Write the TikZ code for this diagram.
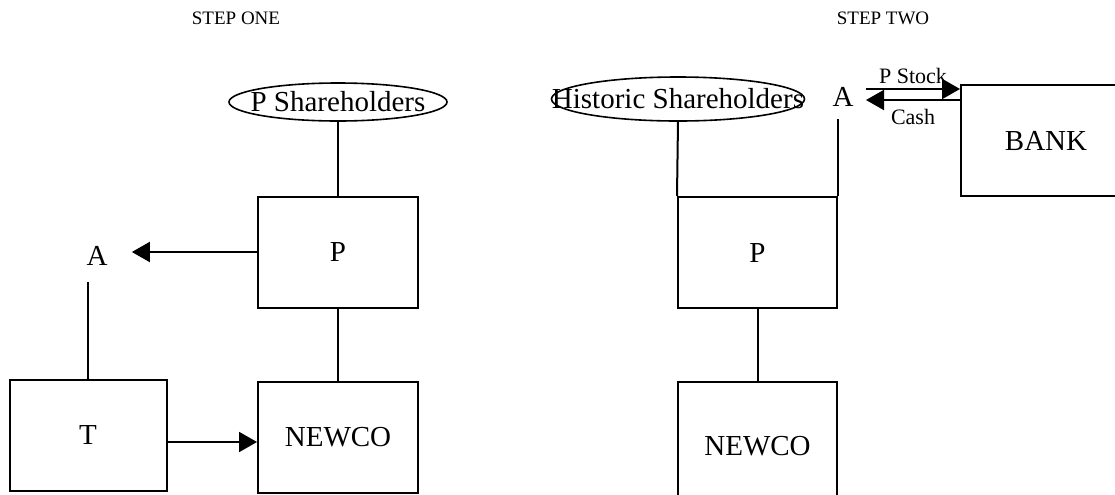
\documentclass[tikz,border=0pt]{standalone}
\usepackage{fontspec}
\setmainfont{Liberation Serif}
\usetikzlibrary{arrows.meta,shapes.geometric}

\tikzset{
  box/.style={draw, rectangle, line width=1pt, minimum width=80pt, minimum height=55.5pt,
    inner sep=0pt, font=\fontsize{14.5}{17}\selectfont},
  oval/.style={draw, ellipse, line width=0.8pt, inner sep=0pt},
  lab/.style={font=\fontsize{14.5}{17}\selectfont, inner sep=1pt},
  small/.style={font=\fontsize{11}{13}\selectfont, inner sep=1pt},
  title/.style={font=\fontsize{9.5}{12}\selectfont},
  link/.style={line width=1pt},
  flow/.style={line width=1pt, -{Triangle[length=9pt,width=10pt]}}
}

\begin{document}
\begin{tikzpicture}[x=0.5pt,y=-0.5pt]
	\useasboundingbox (0,0) rectangle (1115,494);
	\clip (0,0) rectangle (1115,494);
	%
	% step one
	\node[title] (one) at (236,18) {STEP ONE};
	\node[oval, minimum width=109pt, minimum height=19pt,
		label={[lab]center:P Shareholders}] (psh) at (338,102) {};
	\node[box] (p1) at (338,252) {P};
	\node[box] (newco1) at (338,437) {NEWCO};
	\node[box, minimum width=78.5pt] (t) at (88,435) {T};
	\node[lab] (a1) at (97,256) {A};
	%
	\draw[link] (psh) -- (p1);
	\draw[link] (p1) -- (newco1);
	\draw[flow, shorten >=11pt] (p1.west) -- (p1.west -| a1.east);
	\draw[link, shorten >=7pt] (t.north) -- (t.north |- a1.south);
	\draw[flow] ([yshift=-3.5pt]t.east) -- ([yshift=-3.5pt]t.east -| newco1.west);
	%
	% step two
	\node[title] (two) at (883,18) {STEP TWO};
	\node[oval, minimum width=126.5pt, minimum height=22pt,
		label={[lab]center:Historic Shareholders}] (hist) at (678,99) {};
	\node[box, minimum width=79.5pt] (p2) at (757.5,252.5) {P};
	\node[box, minimum width=79.5pt, minimum height=64pt, anchor=north] (newco2) at (757.5,381) {NEWCO};
	\node[lab] (a2) at (843,97) {A};
	\node[box, minimum width=85pt, anchor=west] (bank) at (960,140.5) {BANK};
	%
	\draw[link] (hist.south) -- (p2.north west);
	\draw[link, shorten >=5pt] (p2.north east) -- (p2.north east |- a2.south);
	\draw[link] (p2) -- (newco2);
	%
	\coordinate (stock) at (866,89);
	\coordinate (cash) at (866,100);
	\draw[flow] (stock) -- (stock -| bank.west) node[small, midway, above=1pt] {P Stock};
	\draw[flow] (cash -| bank.west) -- (cash) node[small, midway, below=3pt] {Cash};
\end{tikzpicture}
\end{document}
